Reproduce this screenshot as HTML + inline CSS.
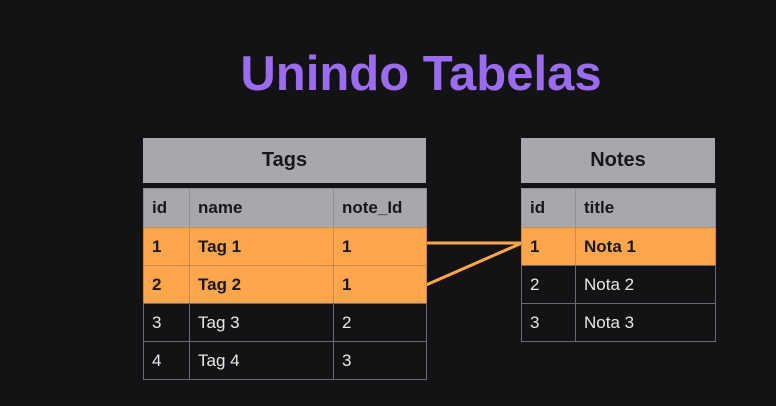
<html><head><style>
body{margin:0;width:776px;height:406px;background:#131316;position:relative;overflow:hidden;font-family:"Liberation Sans",sans-serif}
.t{position:absolute;left:0;width:842px;top:46px;text-align:center;color:#9b6cf0;font-size:49px;font-weight:bold;letter-spacing:0px}
.h{position:absolute;background:#a8a7ae;color:#18181b;font-weight:bold;font-size:20px;display:flex;align-items:center;justify-content:center}
.c{position:absolute;box-sizing:border-box;border:1px solid #6a6a70;font-size:17px;display:flex;align-items:center;padding-left:8px;color:#e8e8ea}
.g{background:#a8a7ae;color:#18181b;font-weight:bold;border-color:#8f8e95}
.o{background:#ffa64d;color:#18181b;font-weight:bold;border-color:#c9894a}
</style></head><body>
<div class="t">Unindo Tabelas</div>
<div class="h" style="left:143px;top:138px;width:283px;height:45px">Tags</div>
<div class="h" style="left:521px;top:138px;width:194px;height:45px">Notes</div>
<svg style="position:absolute;left:0;top:0" width="776" height="406"><line x1="426" y1="243" x2="522" y2="243" stroke="#ffa64d" stroke-width="3"/><line x1="426" y1="285" x2="522" y2="243" stroke="#ffa64d" stroke-width="3"/></svg>
<div id="r"></div>
<script>
var tags=[["g","id","name","note_Id"],["o","1","Tag 1","1"],["o","2","Tag 2","1"],["","3","Tag 3","2"],["","4","Tag 4","3"]];
var notes=[["g","id","title"],["o","1","Nota 1"],["","2","Nota 2"],["","3","Nota 3"]];
var ys=[188,227,265,303,341,379],h="";
function cell(cls,x,y,w,hh,t){h+='<div class="c '+cls+'" style="left:'+x+'px;top:'+y+'px;width:'+w+'px;height:'+hh+'px">'+t+'</div>';}
tags.forEach(function(r,i){var y=ys[i],hh=ys[i+1]-y+1;cell(r[0],143,y,47,hh,r[1]);cell(r[0],189,y,145,hh,r[2]);cell(r[0],333,y,94,hh,r[3]);});
notes.forEach(function(r,i){var y=ys[i],hh=ys[i+1]-y+1;cell(r[0],521,y,55,hh,r[1]);cell(r[0],575,y,141,hh,r[2]);});
document.getElementById("r").innerHTML=h;
</script>
</body></html>
